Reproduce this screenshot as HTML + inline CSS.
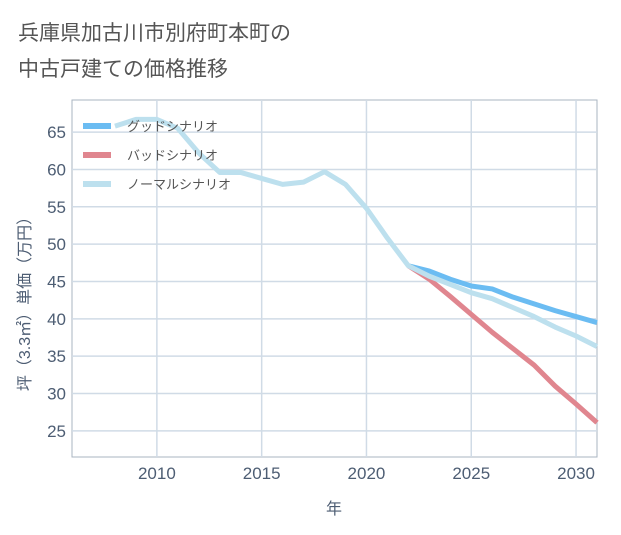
<!DOCTYPE html>
<html><head><meta charset="utf-8"><style>
body{margin:0;background:#fff;font-family:"Liberation Sans","Noto Sans CJK JP",sans-serif;}
#wrap{position:relative;width:621px;height:530px;}
</style></head><body>
<div id="wrap">
<svg id="chart" width="621" height="530" xmlns="http://www.w3.org/2000/svg"></svg>
</div>
<script>
const normalYears=[2008,2009,2010,2011,2012,2013,2014,2015,2016,2017,2018,2019,2020,2021,2022,2023,2024,2025,2026,2027,2028,2029,2030,2031];
const normalVals=[65.8,66.7,66.7,65.5,62.2,59.6,59.6,58.8,58.0,58.3,59.7,58.0,54.8,50.8,47.1,45.7,44.6,43.5,42.7,41.5,40.3,38.9,37.7,36.3];
const futureYears=[2022,2023,2024,2025,2026,2027,2028,2029,2030,2031];
const goodVals=[47.1,46.4,45.3,44.4,44.0,42.9,42.0,41.1,40.3,39.5];
const badVals=[47.1,45.3,43.0,40.6,38.2,36.0,33.8,31.0,28.6,26.1];
const xTicks=[2010,2015,2020,2025,2030];
const yTicks=[25,30,35,40,45,50,55,60,65];
const NS="http://www.w3.org/2000/svg";
const svg=document.getElementById('chart');
const L=72,R=597,T=100,B=457,x0=2005.95,x1=2031,y0=21.5,y1=69.3;
const X=v=>L+(v-x0)/(x1-x0)*(R-L);
const Y=v=>B-(v-y0)/(y1-y0)*(B-T);
function el(t,a,p){const e=document.createElementNS(NS,t);for(const k in a)e.setAttribute(k,a[k]);(p||svg).appendChild(e);return e;}
function txt(s,a){const e=el('text',a);e.textContent=s;return e;}
const t1=txt('兵庫県加古川市別府町本町の',{x:18,y:40,'font-size':21,fill:'#555'});

const t2=txt('中古戸建ての価格推移',{x:18,y:76,'font-size':21,fill:'#555'});

const bg=el('rect',{x:L,y:T,width:R-L,height:B-T,fill:'#fff',stroke:'#aab4c0'});

xTicks.forEach(v=>{const g=el('line',{x1:X(v),x2:X(v),y1:T,y2:B,stroke:'#d0dbe6','stroke-width':1.5});

const l=txt(v,{x:X(v),y:479,'font-size':17,fill:'#4d5d73','text-anchor':'middle'});
});
yTicks.forEach(v=>{const g=el('line',{x1:L,x2:R,y1:Y(v),y2:Y(v),stroke:'#d0dbe6','stroke-width':1.5});

const l=txt(v,{x:66,y:Y(v)+6,'font-size':17,fill:'#4d5d73','text-anchor':'end'});
});
function line(xs,vs,c,n){const p=el('polyline',{points:xs.map((x,i)=>X(x)+','+Y(vs[i])).join(' '),fill:'none',stroke:c,'stroke-width':5,'stroke-linejoin':'round'});
}
line(futureYears,goodVals,'#6bbcf2','good-scenario-line');
line(futureYears,badVals,'#e0868f','bad-scenario-line');
line(normalYears,normalVals,'#bde0ee','normal-scenario-line');
const leg=[['グッドシナリオ','#6bbcf2'],['バッドシナリオ','#e0868f'],['ノーマルシナリオ','#bde0ee']];
leg.forEach((d,i)=>{const y=126+i*29;
const s=el('line',{x1:83,x2:111,y1:y,y2:y,stroke:d[1],'stroke-width':6});

const t=txt(d[0],{x:127,y:y+5,'font-size':13,fill:'#555'});
});
const xt=txt('年',{x:334,y:514,'font-size':16,fill:'#4d5d73','text-anchor':'middle'});

const yt=txt('坪（3.3㎡）単価（万円）',{x:0,y:0,'font-size':16,fill:'#4d5d73','text-anchor':'middle',transform:'translate(30,300) rotate(-90)'});

</script>
</body></html>
